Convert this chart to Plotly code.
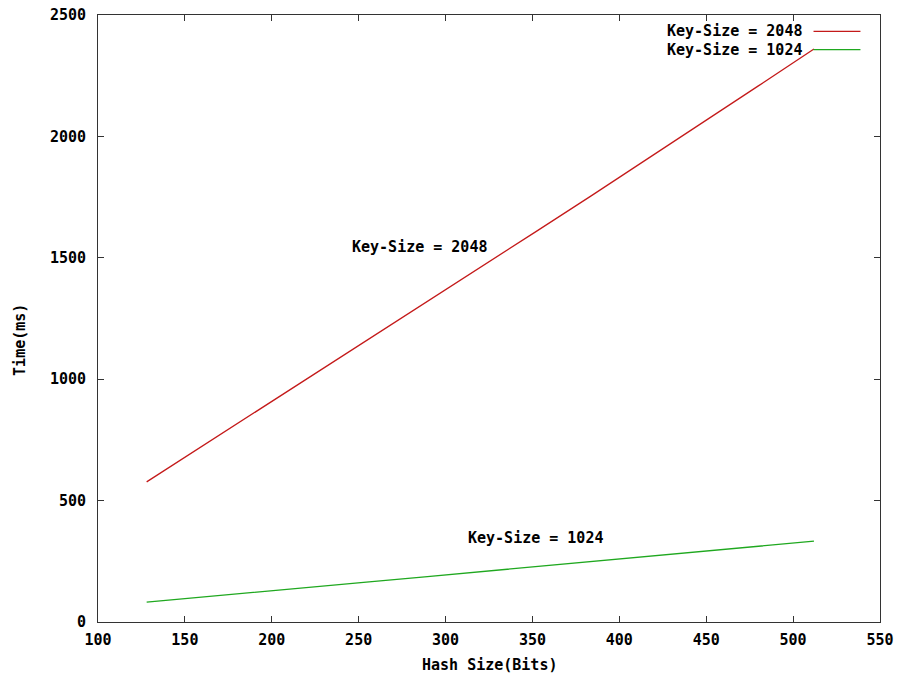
import plotly.graph_objects as go

hash_bits = [128, 160, 192, 224, 256, 288, 320, 352, 384, 416, 448, 480, 512]
time_2048 = [577, 724, 870, 1018, 1165, 1312, 1460, 1608, 1756, 1906, 2057, 2208, 2360]
time_1024 = [82, 102, 124, 145, 165, 186, 207, 229, 250, 270, 291, 312, 333]
series_names = ["Key-Size = 2048", "Key-Size = 1024"]
series_colors = ["#c41a1a", "#1fa81f"]
x_ticks = [100, 150, 200, 250, 300, 350, 400, 450, 500, 550]
y_ticks = [0, 500, 1000, 1500, 2000, 2500]

FONT = dict(family="DejaVu Sans Mono", size=15, color="#000000", weight="bold")

fig = go.Figure()
fig.add_trace(go.Scatter(x=hash_bits, y=time_2048, mode="lines",
                         line=dict(color=series_colors[0], width=1.3),
                         name=series_names[0], showlegend=False))
fig.add_trace(go.Scatter(x=hash_bits, y=time_1024, mode="lines",
                         line=dict(color=series_colors[1], width=1.3),
                         name=series_names[1], showlegend=False))

axis_common = dict(showgrid=False, zeroline=False, showline=True, linecolor="#333333",
                   linewidth=1, mirror="allticks", ticks="inside", ticklen=6,
                   tickcolor="#333333", tickfont=FONT, automargin=False,
                   ticklabeloverflow="allow")
fig.update_xaxes(range=[100, 550], tickvals=x_ticks, ticktext=[str(v) for v in x_ticks],
                 ticklabelstandoff=4, **axis_common)
fig.update_yaxes(range=[0, 2500], tickvals=y_ticks, ticktext=[str(v) for v in y_ticks],
                 ticklabelstandoff=8, **axis_common)

# axis titles
fig.add_annotation(x=0.5, y=-0.071, xref="paper", yref="paper", text="Hash Size(Bits)",
                   showarrow=False, xanchor="center", yanchor="middle", font=FONT)
fig.add_annotation(x=-0.0995, y=0.465, xref="paper", yref="paper", text="Time(ms)",
                   showarrow=False, xanchor="center", yanchor="middle", textangle=-90, font=FONT)

# in-plot labels
fig.add_annotation(x=245, y=1545, xref="x", yref="y", text=series_names[0],
                   showarrow=False, xanchor="left", font=FONT)
fig.add_annotation(x=312, y=346, xref="x", yref="y", text=series_names[1],
                   showarrow=False, xanchor="left", font=FONT)

# legend (gnuplot style: text then line sample on right)
leg_y = [0.973, 0.943]
for name, color, yy in zip(series_names, series_colors, leg_y):
    fig.add_annotation(x=0.903, y=yy, xref="paper", yref="paper", text=name,
                       showarrow=False, xanchor="right", yanchor="middle", font=FONT)
    fig.add_shape(type="line", xref="paper", yref="paper", x0=0.915, x1=0.975,
                  y0=yy, y1=yy, line=dict(color=color, width=1.3))

fig.update_layout(width=900, height=682, plot_bgcolor="white", paper_bgcolor="white",
                  margin=dict(l=98, r=20, t=15, b=60), showlegend=False)

# remove the default page margin so the 900x682 figure fills the window exactly
fig.write_html("out.html", config={"displayModeBar": False},
               post_script="document.body.style.margin='0';")
